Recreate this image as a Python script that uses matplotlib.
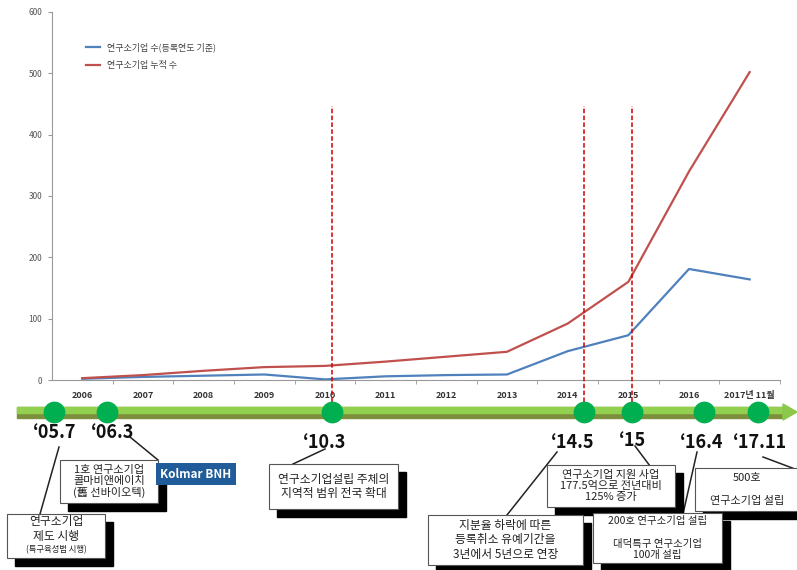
import matplotlib
matplotlib.use('Agg')
import matplotlib.pyplot as plt
from matplotlib.patches import Rectangle, Polygon
from matplotlib.lines import Line2D

plt.rcParams['font.family'] = ['Noto Sans CJK KR', 'DejaVu Sans']

# 연도별 연구소기업 수
years = ['2006', '2007', '2008', '2009', '2010', '2011', '2012', '2013',
         '2014', '2015', '2016', '2017년 11월']
new_firms = [2, 5, 7, 9, 1, 6, 8, 9, 47, 73, 181, 164]
total_firms = [3, 8, 15, 21, 23, 30, 38, 46, 92, 160, 340, 502]

# 연혁 (축 위치: 카테고리 단위)
event_labels = ['\u201805.7', '\u201806.3', '\u201810.3', '\u201814.5', '\u201815', '\u201816.4', '\u201817.11']
event_x = [-0.47, 0.41, 4.12, 8.27, 9.06, 10.25, 11.14]
marked_events = [2, 3, 4]

notes = [
    '연구소기업\n제도 시행',
    '1호 연구소기업\n콜마비앤에이치\n(舊 선바이오텍)',
    '연구소기업설립 주체의\n지역적 범위 전국 확대',
    '지분율 하락에 따른\n등록취소 유예기간을\n3년에서 5년으로 연장',
    '연구소기업 지원 사업\n177.5억으로 전년대비\n125% 증가',
    '200호 연구소기업 설립\n\n대덕특구 연구소기업\n100개 설립',
    '500호\n\n연구소기업 설립',
]

W, H = 797, 570


def fx(x):
    return x / W


def fy(y):
    return 1 - y / H


fig = plt.figure(figsize=(W / 100, H / 100), dpi=100)

# 상단 그래프
ax_l, ax_r, ax_t, ax_b = 52, 780, 12, 380
ax = fig.add_axes([fx(ax_l), fy(ax_b), (ax_r - ax_l) / W, (ax_b - ax_t) / H])
ax.set_zorder(2)
ax.patch.set_alpha(0)
xs = list(range(len(years)))
ax.plot(xs, new_firms, color='#4f81bd', lw=1.6, label='연구소기업 수(등록연도 기준)')
ax.plot(xs, total_firms, color='#c0504d', lw=1.6, label='연구소기업 누적 수')
ax.set_xlim(-0.5, len(years) - 0.5)
ax.set_ylim(0, 600)
ax.set_yticks(range(0, 601, 100))
ax.set_xticks(xs)
ax.set_xticklabels(years, fontsize=6.5, fontweight='bold', color='#333333')
ax.set_xticks([i + 0.5 for i in xs], minor=True)
ax.tick_params(axis='x', which='major', length=0, pad=8)
ax.tick_params(axis='x', which='minor', length=3, color='#999999')
ax.tick_params(axis='y', labelsize=6, colors='#555555', length=3, pad=4)
ax.tick_params(axis='y', color='#999999')
for s in ['top', 'right']:
    ax.spines[s].set_visible(False)
for s in ['left', 'bottom']:
    ax.spines[s].set_color('#999999')
    ax.spines[s].set_linewidth(0.8)

for i in marked_events:
    ax.vlines(event_x[i], -36, 447, colors='#d00000', linestyles=(0, (3, 1.5)),
              lw=1.1, clip_on=False, zorder=5)

ax.legend(loc='upper left', bbox_to_anchor=(0.035, 0.94), frameon=False,
          fontsize=6.5, handlelength=1.6, labelspacing=1.0, labelcolor='#444444')

# 연혁 타임라인
bar_y0, bar_y1 = 407, 418
fig.patches.append(Rectangle((fx(17), fy(bar_y1)), (785 - 17) / W, (bar_y1 - bar_y0) / H,
                             transform=fig.transFigure, color='#7d8f3c', zorder=1))
fig.patches.append(Rectangle((fx(17), fy(413)), (785 - 17) / W, (413 - bar_y0) / H,
                             transform=fig.transFigure, color='#92d050', zorder=1))
fig.patches.append(Polygon([(fx(783), fy(404)), (fx(797), fy(412)), (fx(783), fy(420))],
                           closed=True, transform=fig.transFigure, color='#8cc84b', zorder=1))

tl = fig.add_axes([fx(ax_l), fy(422), (ax_r - ax_l) / W, 20 / H], sharex=ax)
tl.set_zorder(3)
tl.set_ylim(-1, 1)
tl.axis('off')
tl.patch.set_alpha(0)
tl.scatter(event_x, [0] * len(event_x), s=215, color='#00b050', zorder=3, clip_on=False)

label_pos = [(55, 433), (113, 433), (325, 443), (573, 443), (633, 440), (702, 443), (760, 443)]
for lab, (x, y) in zip(event_labels, label_pos):
    fig.text(fx(x), fy(y), lab, fontsize=13, fontweight='bold', color='#111111',
             ha='center', va='center')

# 설명 상자
boxes = [(7, 514, 105, 558), (60, 460, 158, 503), (269, 464, 398, 509),
         (428, 515, 583, 565), (547, 465, 675, 507), (593, 513, 722, 563),
         (695, 468, 800, 511)]
note_sizes = [8.5, 8, 8.5, 8.5, 8, 7.5, 8]
leaders = [((59, 447), (40, 514)), ((130, 437), (158, 460)), ((325, 449), (293, 464)),
           ((557, 452), (507, 515)), ((635, 446), (650, 466)), ((697, 452), (683, 514)),
           ((763, 457), (795, 469))]

for (p0, p1) in leaders:
    fig.add_artist(Line2D([fx(p0[0]), fx(p1[0])], [fy(p0[1]), fy(p1[1])],
                          transform=fig.transFigure, color='#222222', lw=1.1, zorder=2))

for note, size, (x0, y0, x1, y1) in zip(notes, note_sizes, boxes):
    fig.patches.append(Rectangle((fx(x0 + 8), fy(y1 + 8)), (x1 - x0) / W, (y1 - y0) / H,
                                 transform=fig.transFigure, color='black', zorder=3))
    fig.patches.append(Rectangle((fx(x0), fy(y1)), (x1 - x0) / W, (y1 - y0) / H,
                                 transform=fig.transFigure, facecolor='white',
                                 edgecolor='#555555', lw=0.8, zorder=4))
    fig.text(fx((x0 + x1) / 2), fy((y0 + y1) / 2), note, fontsize=size, color='#222222',
             ha='center', va='center', linespacing=1.15, zorder=5)

# 첫 상자의 괄호 문구는 작게
fig.texts[-7].set_y(fy(529))
fig.text(fx(56), fy(550), '(특구육성법 시행)', fontsize=6, color='#222222',
         ha='center', va='center', zorder=5)

fig.text(fx(196), fy(474), 'Kolmar BNH', fontsize=8.5, fontweight='bold', color='white',
         ha='center', va='center', zorder=6,
         bbox=dict(boxstyle='square,pad=0.4', facecolor='#1f5c99', edgecolor='none'))

fig.savefig('out.png', dpi=100)
